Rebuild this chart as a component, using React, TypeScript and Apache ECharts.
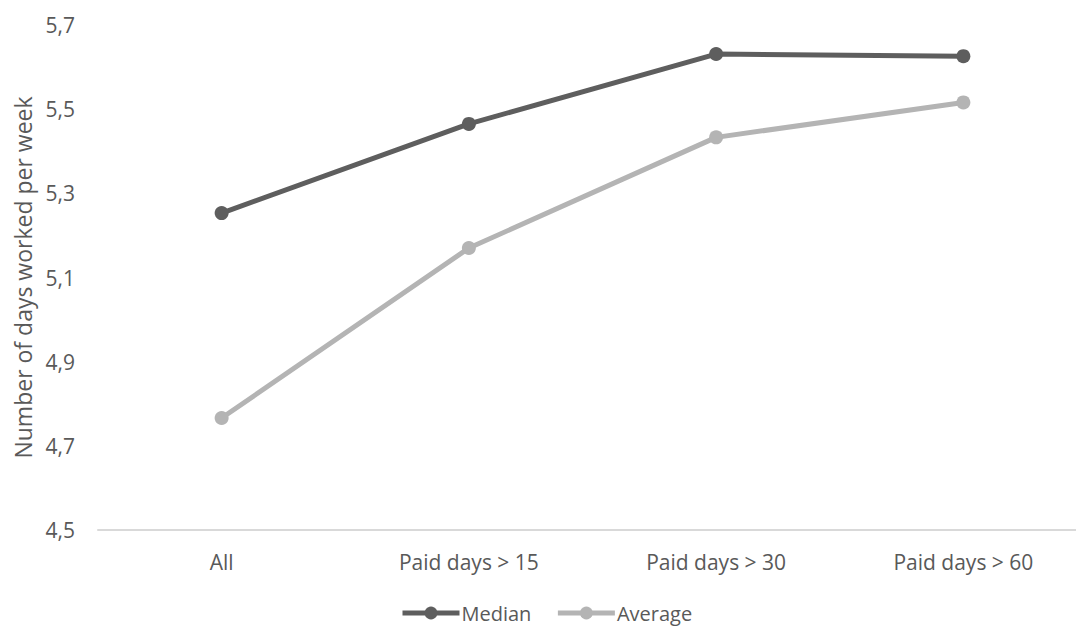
import React, { useEffect, useRef } from "react";
import * as echarts from "echarts";

const categories = ["All", "Paid days > 15", "Paid days > 30", "Paid days > 60"];
const medianValues = [5.253, 5.465, 5.631, 5.626];
const averageValues = [4.766, 5.17, 5.433, 5.516];
const yTicks = { min: 4.5, max: 5.7, interval: 0.2 };
const yAxisTitle = "Number of days worked per week";

const FONT = "'Open Sans', 'Noto Sans', sans-serif";
const TEXT_COLOR = "#595959";

export default function App() {
  const ref = useRef<HTMLDivElement>(null);
  useEffect(() => {
    if (!ref.current) return;
    const chart = echarts.init(ref.current, undefined, { renderer: "svg" });
    chart.setOption({
      animation: false,
      backgroundColor: "#ffffff",
      textStyle: { fontFamily: FONT },
      grid: { left: 98, top: 25, width: 989, height: 505, containLabel: false },
      legend: {
        top: 602,
        left: 400,
        padding: 0,
        itemWidth: 57,
        itemHeight: 16,
        itemGap: 24,
        lineStyle: { width: 5 },
        textStyle: {
          fontFamily: FONT,
          fontSize: 20,
          lineHeight: 22,
          color: TEXT_COLOR,
          padding: [0, 0, 0, -3],
        },
        data: ["Median", "Average"],
      },
      xAxis: {
        type: "category",
        data: categories,
        boundaryGap: true,
        axisLine: { lineStyle: { color: "#d9d9d9", width: 2 } },
        axisTick: { show: false },
        axisLabel: { color: TEXT_COLOR, fontSize: 21, fontFamily: FONT, margin: 21 },
        splitLine: { show: false },
      },
      yAxis: {
        type: "value",
        min: yTicks.min,
        max: yTicks.max,
        interval: yTicks.interval,
        name: yAxisTitle,
        nameLocation: "middle",
        nameGap: 63,
        nameTextStyle: { color: TEXT_COLOR, fontSize: 23, fontFamily: FONT },
        axisLine: { show: false },
        axisTick: { show: false },
        splitLine: { show: false },
        axisLabel: {
          color: TEXT_COLOR,
          fontSize: 21,
          fontFamily: FONT,
          margin: 23,
          formatter: (v: number) => v.toFixed(1).replace(".", ","),
        },
      },
      series: [
        {
          name: "Median",
          type: "line",
          data: medianValues,
          symbol: "circle",
          symbolSize: 14,
          lineStyle: { color: "#5e5e5e", width: 5 },
          itemStyle: { color: "#5e5e5e" },
        },
        {
          name: "Average",
          type: "line",
          data: averageValues,
          symbol: "circle",
          symbolSize: 14,
          lineStyle: { color: "#b4b4b4", width: 5 },
          itemStyle: { color: "#b4b4b4" },
        },
      ],
    });
    return () => chart.dispose();
  }, []);
  return (
    <div
      style={{
        position: "absolute",
        left: 0,
        top: 0,
        width: 1076,
        height: 626,
        overflow: "hidden",
        background: "#ffffff",
      }}
    >
      <div ref={ref} style={{ width: 1110, height: 626 }} />
    </div>
  );
}
